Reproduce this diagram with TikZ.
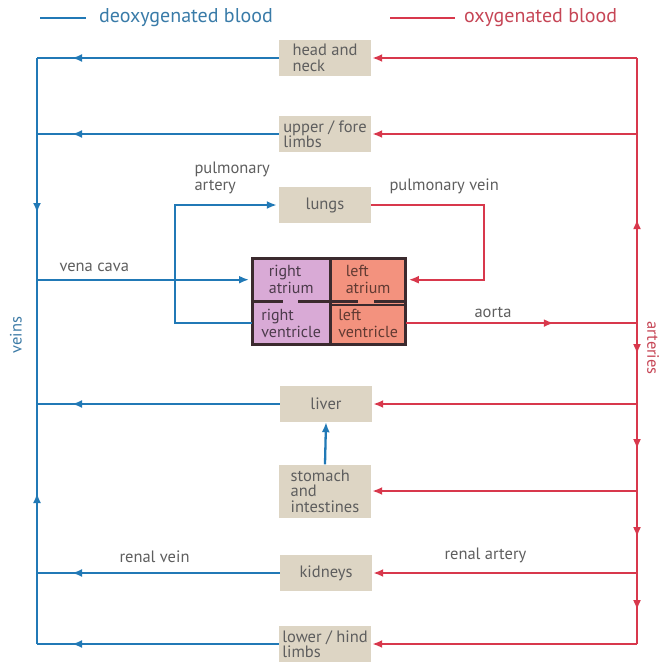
\documentclass[tikz,border=0pt]{standalone}
\usepackage{fontspec}
\setmainfont{PT Sans}
\usepackage{tikz}
\usetikzlibrary{arrows.meta, positioning, decorations.markings}
\definecolor{veinblue}{HTML}{2179B6}
\definecolor{arteryred}{HTML}{D8384C}
\definecolor{organfill}{HTML}{DDD5C4}
\definecolor{rightfill}{HTML}{D9AAD6}
\definecolor{leftfill}{HTML}{F3927E}
\definecolor{wallcolor}{HTML}{3B2A2E}
\definecolor{labelgray}{HTML}{5E5E5E}
\tikzstyle{vein} = [veinblue, line width=2.3pt, >={Latex[length=10pt,width=8pt]}]
\tikzstyle{artery} = [arteryred, line width=2.3pt, >={Latex[length=10pt,width=8pt]}]
\tikzstyle{organ} = [rectangle, fill=organfill, minimum width=92pt, minimum height=36pt, inner sep=1pt, align=left, text=labelgray, font=\fontsize{16.5}{15.5}\selectfont]
\tikzstyle{chamber} = [rectangle, minimum width=78pt, minimum height=43pt, inner sep=1pt, align=left, font=\fontsize{16}{17}\selectfont]
\tikzstyle{label} = [text=labelgray, font=\fontsize{16.5}{17}\selectfont, align=left]
\tikzstyle{legend} = [font=\fontsize{20}{21}\selectfont, inner sep=0pt]
\tikzset{midarrow/.style={postaction={decorate}, decoration={markings, mark=at position #1 with {\arrow{>}}}}}

\begin{document}
\begin{tikzpicture}[x=1pt, y=-1pt, node distance=0pt]
  \useasboundingbox (0,0) rectangle (665,662);

  % Legend
  \coordinate (bleft) at (40,18);
  \coordinate (bright) at (86,18);
  \coordinate (rleft) at (390,18);
  \coordinate (rright) at (455,18);
  \draw[vein] (bleft) -- (bright);
  \draw[artery] (rleft) -- (rright);
  \node (deoxy) [right=13pt of bright, legend, text=veinblue!75!gray] {deoxygenated blood};
  \node (oxy) [right=9pt of rright, legend, text=arteryred!80!gray] {oxygenated blood};

  % Organs
  \node (head) [organ] at (325,58) {head and\\neck};
  \node (upper) [organ] at (325,134) {upper / fore\\limbs};
  \node (lungs) [organ] at (325,205) {lungs};
  \node (liver) [organ] at (326,404) {liver};
  \node (stomach) [organ, minimum height=53pt] at (325,491) {stomach\\and\\intestines};
  \node (kidneys) [organ] at (326,573) {kidneys};
  \node (lower) [organ] at (325,644) {lower / hind\\limbs};

  % Heart
  \node (ra) [chamber, fill=rightfill, draw=rightfill, text=rightfill!35!black, anchor=north west] at (252,258) {right\\atrium};
  \node (la) [chamber, fill=leftfill, draw=leftfill, text=leftfill!40!black, minimum width=75pt, right=of ra] {left\\atrium};
  \node (rv) [chamber, fill=rightfill, draw=rightfill, text=rightfill!35!black, below=of ra] {right\\ventricle};
  \node (lv) [chamber, fill=leftfill, draw=leftfill, text=leftfill!40!black, minimum width=75pt, right=of rv] {left\\ventricle};
  \draw[wallcolor, line width=2pt] ([xshift=1pt, yshift=-4pt]lv.north west) rectangle (lv.south east);
  \draw[wallcolor, line width=2.5pt] (ra.north east) -- (rv.south east);
  \draw[wallcolor, line width=2.5pt] (ra.south west) -- ++(31,0);
  \draw[wallcolor, line width=2.5pt] (ra.south east) -- ++(-32,0);
  \draw[wallcolor, line width=2.5pt] (la.south west) -- ++(28,0);
  \draw[wallcolor, line width=2.5pt] (la.south east) -- ++(-32,0);
  \draw[wallcolor, line width=3pt] (ra.north west) rectangle (lv.south east);

  % Main vessels
  \coordinate (veins) at (37,57);
  \coordinate (arteries) at (637,57);
  \coordinate (cava) at (veins |- ra.west);
  \coordinate (aortaend) at (arteries |- lv.east);
  \draw[vein, midarrow=155pt] (head.west -| veins) -- (cava);
  \draw[vein, midarrow=151pt] (lower.west -| veins) -- (cava);
  \draw[artery, midarrow=104pt] (aortaend) -- (head.east -| arteries);
  \draw[artery, postaction={decorate}, decoration={markings,
      mark=at position 31pt with {\arrow{>}},
      mark=at position 126pt with {\arrow{>}},
      mark=at position 214pt with {\arrow{>}},
      mark=at position 287pt with {\arrow{>}}}] (aortaend) -- (lower.east -| arteries);

  % Arrows to and from the organs
  \foreach \organ in {head, upper, liver, kidneys, lower} {
    \draw[vein, midarrow=-35pt] (\organ.west) -- (\organ.west -| veins);
    \draw[artery, ->, shorten >=1pt] (\organ.east -| arteries) -- (\organ.east);
  }
  \draw[artery, ->, shorten >=1pt] (stomach.east -| arteries) -- (stomach.east);
  \draw[vein, ->] (stomach.north) -- (liver.south);
  \draw[vein, ->, shorten >=3pt] (cava) -- (ra.west);
  \draw[vein, ->, shorten >=2pt] (rv.west) -- ++(-77,0) |- (lungs.west);
  \draw[artery, ->, shorten >=3pt] (lungs.east) -- ++(113,0) |- (la.east);
  \draw[artery, midarrow=148pt] (lv.east) -- (aortaend);

  % Labels
  \node (pulart) [label, anchor=south west] at (191,197) {pulmonary\\artery};
  \node (pulvein) [label, anchor=south west] at (386,197) {pulmonary vein};
  \node (cavalabel) [label, anchor=south west] at (56,275) {vena cava};
  \node (aorta) [label, anchor=south west] at (471,321) {aorta};
  \node (renalvein) [label, anchor=south west] at (116,566) {renal vein};
  \node (renalart) [label, anchor=south west] at (441,566) {renal artery};
  \node (veinlabel) [label, text=veinblue!70!gray, rotate=90] at (16,335) {veins};
  \node (artlabel) [label, text=arteryred!80!gray, rotate=-90] at (653,348) {arteries};

\end{tikzpicture}
\end{document}
